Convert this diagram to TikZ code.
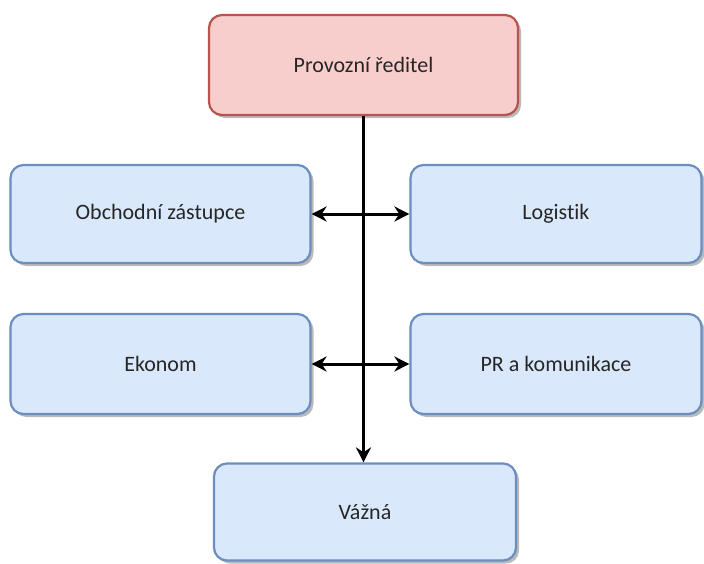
\documentclass[tikz,border=0pt]{standalone}
\usepackage{fontspec}
\setmainfont{Carlito}[Ligatures=NoCommon]
\usetikzlibrary{arrows.meta,shadows}
\definecolor{bluefill}{HTML}{DAE8FC}
\definecolor{blueline}{HTML}{6C8EBF}
\definecolor{redfill}{HTML}{F8CECC}
\definecolor{redline}{HTML}{B85450}
\begin{document}
\begin{tikzpicture}[x=1pt,y=-1pt,
  box/.style={draw=blueline,fill=bluefill,line width=2.2pt,rounded corners=13pt,
    font=\fontsize{22}{26}\selectfont,text=black!85,
    drop shadow={shadow xshift=3pt,shadow yshift=-3pt,fill=black!45,opacity=0.6}},
  headbox/.style={box,draw=redline,fill=redfill},
  link/.style={line width=3pt,black},
  >={Stealth[length=15pt,width=15pt]}]
  \useasboundingbox (0,0) rectangle (704,563);
  \node[headbox,minimum width=309pt,minimum height=100pt] (head) at (363.5,65) {Provozní ředitel};
  \node[box,minimum width=300pt,minimum height=98pt] (obch) at (160.5,214) {Obchodní zástupce};
  \node[box,minimum width=291pt,minimum height=98pt] (logi) at (556,214) {Logistik};
  \node[box,minimum width=300pt,minimum height=100pt] (ekon) at (160.5,364) {Ekonom};
  \node[box,minimum width=291pt,minimum height=100pt] (prko) at (556,364) {PR a komunikace};
  \node[box,minimum width=302pt,minimum height=97pt] (vazna) at (365,512) {Vážná};
  \draw[link,->] (head.south) -- (head.south |- vazna.north);
  \draw[link,<->] (obch.east) -- (logi.west);
  \draw[link,<->] (ekon.east) -- (prko.west);
\end{tikzpicture}
\end{document}
